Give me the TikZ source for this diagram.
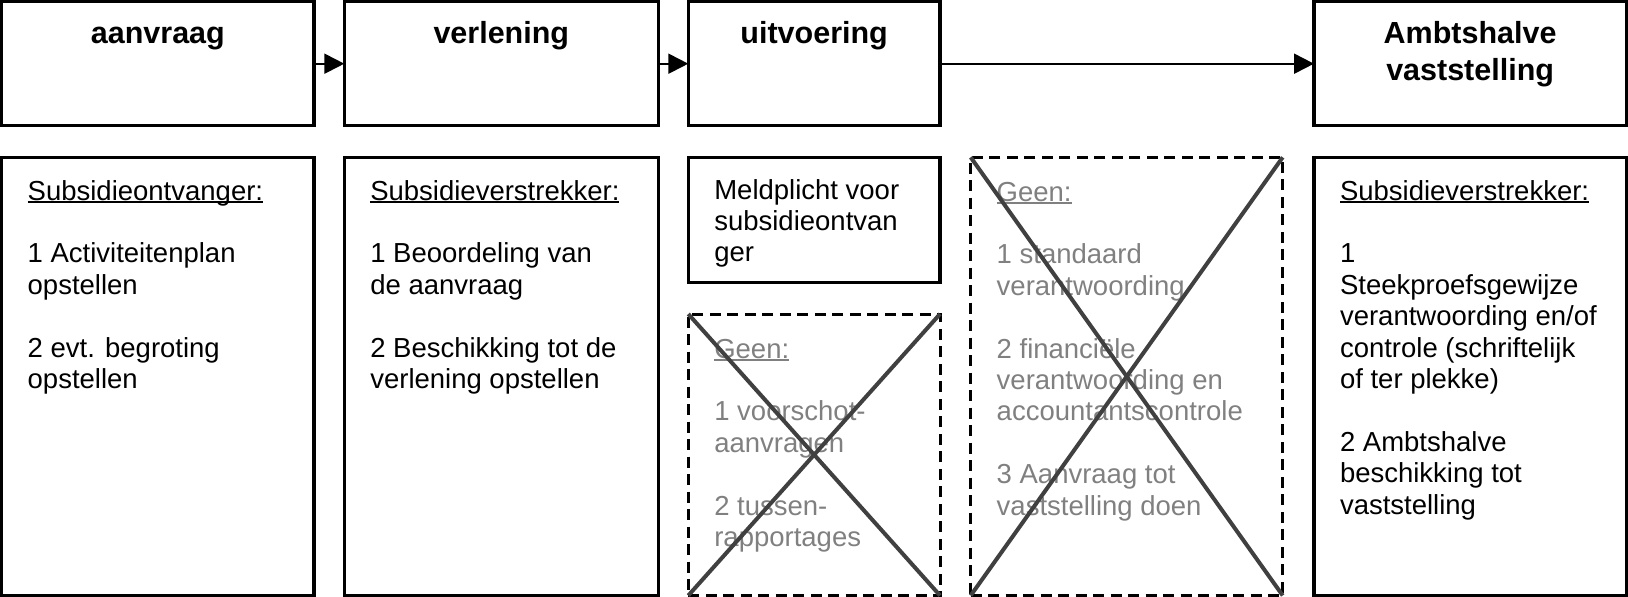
\documentclass[tikz,border=0pt]{standalone}
\usepackage{fontspec}
\setmainfont{Liberation Sans}
\usetikzlibrary{arrows.meta}
\definecolor{txtgray}{HTML}{808080}
\definecolor{crossgray}{HTML}{404040}
\newcommand\ulin[1]{\leavevmode\setbox0=\hbox{#1}\rlap{\rule[-3.3pt]{\wd0}{2.2pt}}\box0}
\newcommand\skipline{\\[31.4pt]}
\newcommand\bodytext[1]{\parbox[t]{300pt}{\raggedright #1}}
\tikzset{
  box/.style={draw, line width=3.3pt, inner sep=0pt, outer sep=0pt},
  dbox/.style={draw, line width=3pt, dash pattern=on 11pt off 6.5pt, inner sep=0pt, outer sep=0pt},
  conn/.style={draw, line width=2pt, -{Triangle[length=20pt,width=20pt]}},
  xline/.style={draw=crossgray, line width=4pt},
  title/.style={anchor=base, inner sep=0pt, font=\fontsize{30.5}{37.5}\selectfont\bfseries},
  body/.style={anchor=base west, inner sep=0pt, outer sep=0pt, font=\fontsize{27.5}{31.4}\selectfont},
  graybody/.style={body, text=txtgray}
}
\begin{document}
\begin{tikzpicture}[x=1pt, y=-1pt]
\useasboundingbox (0,0) rectangle (1628,597);
% top boxes
\node[box, minimum width=312.3pt, minimum height=124pt] (aanvraag) at (157.85,63.7) {};
\node[box, minimum width=314pt, minimum height=124pt] (verlening) at (501.3,63.7) {};
\node[box, minimum width=251.7pt, minimum height=124pt] (uitvoering) at (814.15,63.7) {};
\node[box, minimum width=312.3pt, minimum height=124pt] (ambts) at (1470.15,63.7) {};
\node[title] (t1) at (157.85,43) {aanvraag};
\node[title] (t2) at (501.3,43) {verlening};
\node[title] (t3) at (814.15,43) {uitvoering};
\node[title] (t4) at (1470.15,43) {\parbox[t]{300pt}{\centering Ambtshalve\\vaststelling}};
% connectors
\draw[conn] (aanvraag.east) -- (verlening.west);
\draw[conn] (verlening.east) -- (uitvoering.west);
\draw[conn] (uitvoering.east) -- (ambts.west);
% bottom boxes
\node[box, minimum width=312.3pt, minimum height=438.2pt] (ontv) at (157.85,376.4) {};
\node[box, minimum width=314pt, minimum height=438.2pt] (verstr) at (501.3,376.4) {};
\node[box, minimum width=251.7pt, minimum height=125.4pt] (meld) at (814.15,220) {};
\node[dbox, minimum width=251.7pt, minimum height=281.5pt] (geen1) at (814.15,454.75) {};
\node[dbox, minimum width=312pt, minimum height=438.2pt] (geen2) at (1126.7,376.4) {};
\node[box, minimum width=312.3pt, minimum height=438.2pt] (vast) at (1470.15,376.4) {};
% texts
\node[body] (b1) at (27.7,200) {\bodytext{\ulin{Subsidieontvanger:}\skipline
1 Activiteitenplan\\
opstellen\skipline
2 evt. begroting\\
opstellen}};
\node[body] (b2) at (370.3,200) {\bodytext{\ulin{Subsidieverstrekker:}\skipline
1 Beoordeling van\\
de aanvraag\skipline
2 Beschikking tot de\\
verlening opstellen}};
\node[body] (b3) at (714.3,199) {\bodytext{Meldplicht voor\\
subsidieontvan\\
ger}};
\node[graybody] (b4) at (714.3,358) {\bodytext{\ulin{Geen:}\skipline
1 voorschot-\\
aanvragen\skipline
2 tussen-\\
rapportages}};
\node[graybody] (b5) at (996.7,201) {\bodytext{\ulin{Geen:}\skipline
1 standaard\\
verantwoording\skipline
2 financiële\\
verantwoording en\\
accountantscontrole\skipline
3 Aanvraag tot\\
vaststelling doen}};
\node[body] (b6) at (1340,200) {\bodytext{\ulin{Subsidieverstrekker:}\skipline
1\\
Steekproefsgewijze\\
verantwoording en/of\\
controle (schriftelijk\\
of ter plekke)\skipline
2 Ambtshalve\\
beschikking tot\\
vaststelling}};
% crosses
\draw[xline] (geen1.north west) -- (geen1.south east);
\draw[xline] (geen1.north east) -- (geen1.south west);
\draw[xline] (geen2.north west) -- (geen2.south east);
\draw[xline] (geen2.north east) -- (geen2.south west);
\end{tikzpicture}
\end{document}
